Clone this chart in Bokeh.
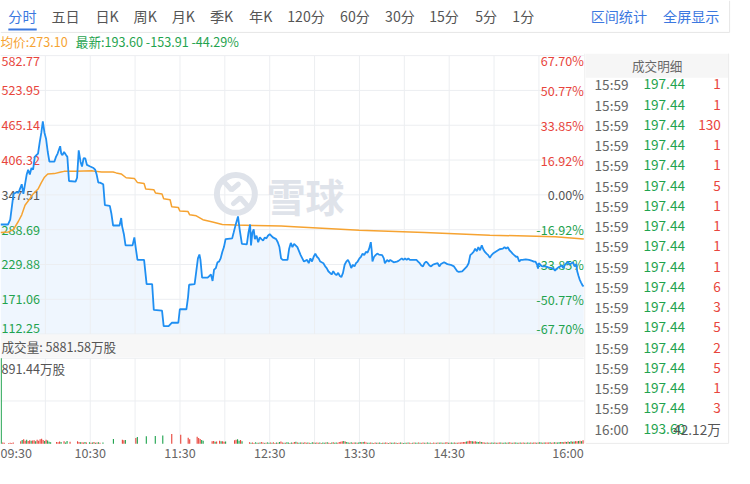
from bokeh.plotting import figure
from bokeh.models import Range1d
from bokeh.core.properties import value
from bokeh.embed import file_html
from bokeh.resources import INLINE

FONT = "Noto Sans CJK SC"

# ---------------- data ----------------
prev_close = 347.51
avg_last = 273.10
last_price = 193.60
last_change = -153.91
last_pct = -44.29
total_volume_wan = 5881.58
max_volume_wan = 891.44

price_ticks = [582.77, 523.95, 465.14, 406.32, 347.51, 288.69, 229.88, 171.06, 112.25]
pct_labels = ["67.70%", "50.77%", "33.85%", "16.92%", "0.00%", "-16.92%", "-33.85%", "-50.77%", "-67.70%"]
time_tick_min = [0, 60, 120, 180, 240, 300, 390]
time_tick_labels = ["09:30", "10:30", "11:30", "12:30", "13:30", "14:30", "16:00"]

tabs = ["分时", "五日", "日K", "周K", "月K", "季K", "年K", "120分", "60分", "30分", "15分", "5分", "1分"]
tools_right = ["区间统计", "全屏显示"]

# minute-line price (minutes after 09:30, price)
price_min = [0, 5, 6.5, 8.7, 10.9, 12, 14.2, 15.3, 17.5, 18.5, 19.6, 20.7, 21.8, 22.9, 24, 25.1, 26.2, 27.3, 28.3, 29.4,
             30.5, 31.6, 32.7, 36, 37.1, 38.2, 39.3, 39.9, 40.6, 41.4, 42.5, 43.6, 44.7, 45.8, 50.2, 51.2, 52.3, 53.5, 54.5, 55.6,
             56.7, 57.8, 60, 62.2, 63.3, 64.3, 65.4, 66.5, 68.7, 69.8, 73.1, 74.1, 75.3, 79.6, 80.7, 81.3, 82.5, 83.6, 88.3, 89.5,
             90.5, 91.6, 96, 97.7, 101.4, 102.5, 108, 109.1, 112.4, 114.5, 118.9, 119.9, 124.3, 125.4, 126.1, 129.8, 130.9, 132, 133, 133.7,
             134.8, 138.5, 139.6, 140.7, 141.8, 142.8, 144, 145.1, 146.1, 147.2, 148.3, 149.4, 150.5, 154.9, 155.9, 157, 158.8, 159.9, 161.4, 164.7,
             165.8, 166.9, 167.5, 168.4, 169.3, 170.1, 171.2, 172.3, 173.4, 174.5, 175.6, 176.7, 177.8, 178.8, 180, 182.1, 184.3, 185.4, 186.5, 187.6,
             188.7, 191.9, 193, 194.1, 195.2, 196.3, 198.5, 200.7, 202.9, 205, 206.1, 207.2, 208.3, 209.4, 210.5, 211.6, 212.7, 213.8, 215.9, 217.1,
             218.1, 219.2, 220.3, 221.4, 222.5, 223.6, 224.6, 225.8, 226.9, 227.9, 229, 230.1, 231.2, 232.3, 233.4, 234.5, 235.6, 236.7, 237.7, 238.8,
             240, 241, 242.1, 243.2, 244.3, 245.4, 246.5, 247.6, 248.2, 248.7, 249.8, 250.8, 251.9, 253, 255.2, 256.3, 257, 258.5, 259.6, 260.6,
             262.9, 265, 266.1, 268.3, 269.4, 270.5, 271.6, 272.7, 273.7, 276, 278.1, 279.2, 280.3, 281.4, 282.5, 283.5, 284.6, 285.7, 286.8, 287.9,
             289, 290.1, 292.3, 293.4, 294.5, 296.6, 298.8, 301, 303.2, 305.4, 306.4, 308.7, 310.8, 311.9, 313, 314.1, 315.2, 316.3, 317.4, 318.5,
             319.5, 320.6, 321.8, 322.8, 323.9, 325, 326.1, 327.2, 328.3, 329.3, 331.6, 333.7, 335.9, 337, 338.1, 339.2, 340.3, 341.4, 342.4, 343.5,
             344.7, 345.7, 346.8, 347.9, 349, 351.2, 353.4, 355.5, 356.6, 357.7, 358.8, 359.4, 359.9, 361, 362.1, 364.3, 366.4, 368.6, 369.7, 370.8,
             371.9, 373, 374.1, 375.2, 376.3, 377.4, 378.4, 379.5, 380.6, 381.7, 382.8, 383.9, 385, 385.6, 386.5, 387.2, 388.2, 389.3, 390]
price_val = [297.4, 297.4, 305.5, 349.1, 352.4, 350.8, 365.5, 349.1, 381.8, 390.0, 381.8, 392.8, 390.0, 411.7, 414.5, 417.3, 436.2, 452.6, 471.7, 452.6,
             441.8, 419.9, 403.5, 403.5, 411.7, 417.3, 425.4, 429.7, 417.3, 414.5, 419.9, 415.6, 411.7, 370.9, 370.0, 376.4, 422.7, 403.5, 395.4, 409.6,
             409.1, 398.1, 395.4, 392.8, 390.0, 381.8, 368.2, 368.2, 365.5, 330.0, 329.0, 316.5, 295.7, 295.7, 308.3, 294.7, 281.0, 262.1, 262.1, 275.6,
             256.5, 237.6, 237.6, 196.7, 196.7, 153.1, 152.0, 125.8, 125.8, 131.4, 131.4, 154.2, 154.2, 174.8, 195.6, 196.7, 218.4, 240.2, 246.7, 237.6,
             207.5, 207.5, 210.3, 213.0, 202.1, 221.2, 223.8, 233.6, 234.8, 240.2, 251.1, 259.3, 272.8, 274.0, 283.8, 294.7, 311.1, 289.2, 264.7, 263.7,
             283.8, 297.4, 262.1, 283.8, 289.2, 272.8, 278.4, 267.5, 275.6, 272.8, 270.2, 275.6, 274.0, 278.4, 281.0, 275.6, 272.8, 267.5, 259.3, 240.2,
             237.6, 237.6, 256.5, 266.3, 259.3, 264.7, 259.3, 245.7, 234.8, 237.6, 232.0, 240.2, 234.8, 242.9, 248.3, 242.9, 240.2, 234.8, 232.0, 226.6,
             223.8, 218.4, 215.7, 213.0, 218.4, 214.0, 211.9, 215.7, 210.3, 208.6, 215.7, 229.4, 234.8, 237.6, 232.0, 223.8, 229.4, 226.6, 232.0, 234.8,
             240.2, 242.9, 248.3, 245.7, 251.1, 250.0, 256.5, 267.5, 253.9, 234.8, 242.9, 245.7, 248.3, 246.7, 245.7, 240.2, 232.0, 237.6, 234.8, 237.6,
             233.6, 234.8, 235.9, 240.2, 237.6, 240.2, 237.6, 240.2, 237.6, 237.6, 237.6, 234.8, 232.0, 228.2, 226.6, 232.0, 234.8, 232.0, 228.2, 226.6,
             229.4, 230.5, 232.0, 226.6, 230.8, 233.6, 230.5, 229.4, 226.6, 218.4, 217.3, 218.4, 223.8, 226.6, 232.0, 245.7, 248.3, 251.1, 256.5, 252.2,
             259.3, 253.9, 262.1, 255.6, 251.1, 248.3, 245.7, 241.3, 245.7, 248.3, 252.2, 255.6, 256.5, 259.3, 256.5, 259.3, 253.9, 251.1, 248.3, 245.7,
             242.9, 242.9, 234.8, 237.6, 237.6, 238.6, 237.6, 235.9, 234.8, 234.8, 229.4, 222.8, 232.0, 229.4, 226.6, 226.6, 225.0, 223.8, 222.8, 219.6,
             222.8, 225.0, 226.6, 228.2, 223.8, 229.4, 232.0, 234.8, 229.4, 232.0, 233.6, 226.6, 230.5, 218.4, 210.3, 204.9, 199.3, 193.9, 193.60]

# average price line
avg_min = [0, 5.4, 8.7, 12, 14.2, 16.4, 19.6, 21.8, 25.1, 27.3, 29.4, 31.6, 36, 40.4, 42.5, 50.2, 61.1, 63.3, 67.6, 75.3,
           77.4, 80.7, 84, 89.5, 91.6, 96, 97.1, 102.5, 103.6, 108, 109.1, 113.4, 114.5, 118.9, 119.9, 125.4, 126.5, 130.9, 135.3, 141.8,
           148.3, 157, 170.1, 187.6, 196.3, 240, 283.5, 327.2, 370.8, 390]
avg_val = [283.8, 284.9, 289.2, 302.9, 313.7, 330.0, 341.0, 349.1, 357.3, 368.2, 377.4, 382.9, 383.4, 386.2, 387.2, 387.2, 388.3, 387.2, 386.2, 386.2,
           384.6, 382.9, 376.4, 375.3, 368.2, 366.6, 357.3, 356.2, 350.8, 349.1, 341.0, 339.3, 327.4, 326.3, 320.2, 319.2, 313.7, 312.1, 305.5, 301.8,
           297.4, 296.4, 295.7, 294.7, 293.6, 287.5, 283.8, 279.4, 276.8, 273.10]

# volume (万股) per minute; 1 = up (red), 0 = down (green)
vol_am_min = [0, 1, 2, 5, 6, 7, 8, 13, 14, 15, 16, 17, 18, 19, 20, 21, 22, 23, 24, 25, 26, 27, 28, 29, 30, 31, 32, 33,
              37, 38, 39, 40, 42, 43, 44, 46, 51, 52, 53, 54, 55, 56, 57, 59, 60, 61, 62, 63, 64, 65, 66, 68,
              75, 81, 82, 83, 90, 91, 97, 103, 108, 114, 120, 125, 126, 131, 132, 133, 134, 135,
              141, 142, 143, 144, 146, 147, 148, 149, 150, 156, 157, 158, 159, 160, 161]
vol_am_val = [891.44, 12, 10, 8, 10, 8, 12, 25, 38, 45, 30, 42, 28, 35, 30, 32, 36, 25, 40, 30, 45, 50, 38, 28, 42, 32, 20, 14,
              18, 15, 22, 16, 24, 12, 28, 20, 25, 18, 15, 14, 12, 16, 12, 15, 10, 12, 18, 10, 12, 14, 10, 12,
              48, 40, 35, 38, 60, 70, 78, 80, 85, 100, 92, 62, 45, 72, 60, 48, 38, 30,
              25, 28, 20, 22, 30, 24, 26, 20, 22, 35, 40, 45, 30, 38, 25]
vol_am_dir = [0, 1, 1, 1, 1, 1, 1, 1, 0, 1, 1, 0, 1, 1, 0, 1, 1, 0, 1, 1, 1, 1, 1, 0, 1, 0, 0, 0,
              1, 1, 1, 0, 1, 0, 0, 1, 1, 1, 0, 1, 1, 0, 1, 0, 1, 0, 1, 0, 1, 0, 1, 0,
              0, 1, 1, 0, 1, 0, 0, 0, 0, 1, 1, 1, 1, 1, 1, 1, 0, 0,
              1, 1, 0, 1, 1, 0, 1, 1, 0, 1, 1, 0, 0, 1, 0]
vol_pm_start = 166
vol_pm_val = [15, 10, 12, 8, 14, 10, 9, 12, 16, 11, 8, 10, 13, 9, 12, 10, 14, 8, 11, 9,
              18, 22, 12, 10, 9, 14, 11, 8, 12, 10, 16, 20, 12, 9, 11, 13, 10, 15, 9, 12,
              10, 8, 14, 11, 9, 12, 10, 13, 8, 11, 9, 12, 15, 10, 8, 12, 14, 9, 11, 10,
              16, 20, 24, 28, 22, 18, 12, 10, 14, 9, 11, 13, 10, 12, 16, 14, 18, 20, 12, 10,
              9, 11, 10, 8, 12, 9, 10, 11, 8, 9, 10, 12, 9, 8, 11, 10, 9, 12, 10, 8,
              9, 11, 10, 8, 10, 9, 12, 10, 8, 9, 11, 10, 9, 12, 10, 8, 11, 9, 10, 12,
              9, 10, 8, 11, 10, 9, 12, 10, 11, 9, 10, 12, 14, 10, 9, 11, 10, 12, 9, 10,
              11, 12, 14, 16, 18, 22, 26, 30, 28, 24, 22, 26, 20, 18, 22, 16, 14, 12, 10, 12,
              10, 9, 11, 10, 12, 9, 10, 11, 12, 10, 9, 11, 10, 12, 14, 10, 9, 11, 12, 10,
              9, 11, 10, 12, 9, 10, 11, 9, 12, 10, 11, 13, 10, 12, 14, 11, 10, 12, 13, 11,
              12, 14, 10, 12, 15, 13, 11, 14, 16, 18, 15, 20, 17, 22, 18, 24, 20, 22, 26, 24, 28, 30, 26, 35]
vol_pm_dir = ("10110010110100101101" "01101001011010010110" "10010110100101101001" "11101001011010010110"
              "01011010010110100101" "10100101101001011010" "01011010010110100101" "11111011101100101101"
              "01001011010010110100" "10110100101101001011" "101101001011010010110101")

# trade detail table
trade_time = ["15:59"] * 17 + ["16:00"]
trade_price = [197.44] * 17 + [193.60]
trade_vol = ["1", "1", "130", "1", "1", "5", "1", "1", "1", "1", "6", "3", "5", "2", "5", "1", "3", "42.12万"]

# ---------------- layout (reference pixel geometry) ----------------
RW, RH = 750, 484
W, H = 734, 468
PX_PER_MIN = 596 / 390.0
P_TOP_Y, P_BOT_Y = 57.0, 345.0
V_TOP_Y, V_BOT_Y = 370.0, 458.3

RED = "#e8453c"
GREEN = "#1fa34e"
BLUE = "#1f8ff2"
ORANGE = "#f6a331"
GRAY = "#555555"
GRID = "#eceef1"
LINK = "#3b78e0"

kp = (price_ticks[0] - price_ticks[-1]) / (P_BOT_Y - P_TOP_Y)
kv = max_volume_wan / (V_BOT_Y - V_TOP_Y)

p = figure(width=W, height=H, output_backend="svg", toolbar_location=None,
           x_range=Range1d(0, RW), y_range=Range1d(RH, 0), min_border=0)
p.extra_x_ranges = {"min": Range1d(0, RW / PX_PER_MIN)}
p.extra_y_ranges = {
    "price": Range1d(price_ticks[-1] - (RH - P_BOT_Y) * kp, price_ticks[-1] + P_BOT_Y * kp),
    "vol": Range1d(-(RH - V_BOT_Y) * kv, V_BOT_Y * kv),
}
p.xaxis.visible = False
p.yaxis.visible = False
p.grid.visible = False
p.outline_line_color = None
p.background_fill_color = "white"
p.border_fill_color = "white"

sc = (W / RW + H / RH) / 2.0
def fs(px):
    return "%.1fpx" % (px * sc)

# ---- backgrounds / frames ----
p.segment(x0=[0], y0=[33], x1=[745], y1=[33], line_color="#e6e6e6", line_width=1)
p.segment(x0=[745], y0=[0], x1=[745], y1=[33], line_color="#e6e6e6", line_width=1)
p.quad(left=[0], right=[596], top=[346], bottom=[369], fill_color="#f7f7f7", line_color=None)
p.quad(left=[598], right=[744], top=[55], bottom=[80], fill_color="#f6f6f6", line_color=None)
p.segment(x0=[744, 598], y0=[55, 458], x1=[744, 744], y1=[458, 458], line_color="#ebebeb", line_width=1)
p.segment(x0=[597], y0=[55], x1=[597], y1=[458], line_color="#eeeeee", line_width=1)

# ---- price area fill ----
p.varea(x=price_min, y1=price_val, y2=[price_ticks[-1]] * len(price_val),
        x_range_name="min", y_range_name="price", fill_color="#e9f3fe", fill_alpha=0.75)

# ---- grids ----
grid_min = list(range(30, 390, 30))
p.segment(x0=grid_min, y0=[price_ticks[0]] * len(grid_min), x1=grid_min, y1=[price_ticks[-1]] * len(grid_min),
          x_range_name="min", y_range_name="price", line_color=GRID, line_width=1)
p.segment(x0=grid_min, y0=[max_volume_wan] * len(grid_min), x1=grid_min, y1=[0] * len(grid_min),
          x_range_name="min", y_range_name="vol", line_color=GRID, line_width=1)
p.segment(x0=[0] * len(price_ticks), y0=price_ticks, x1=[390] * len(price_ticks), y1=price_ticks,
          x_range_name="min", y_range_name="price", line_color=GRID, line_width=1)
p.segment(x0=[0, 0], y0=[max_volume_wan / 2, max_volume_wan], x1=[390, 390], y1=[max_volume_wan / 2, max_volume_wan],
          x_range_name="min", y_range_name="vol", line_color=GRID, line_width=1)

# ---- watermark ----
p.scatter(x=[240.5], y=[200], size=39 * sc, marker="circle", fill_color=None,
          line_color="#dfe3ea", line_width=6)
p.multi_line(xs=[[229, 236, 243], [238, 245, 252]], ys=[[188, 196, 190], [210, 204, 212]],
             line_color="#dfe3ea", line_width=5, line_cap="round")
p.text(x=[272], y=[201], text=["雪球"], text_font=value(FONT), text_font_size=fs(40),
       text_color="#dfe3ea", text_baseline="middle", text_align="left", text_font_style="bold")

# ---- header tabs ----
tab_x = [8, 52, 97, 136, 175, 214, 254, 293, 347, 393, 438, 485, 523]
p.text(x=tab_x, y=[16.5] * len(tabs), text=tabs, text_font=value(FONT), text_font_size=fs(14.5),
       text_color=[LINK] + ["#555555"] * (len(tabs) - 1), text_baseline="middle", text_align="left")
p.segment(x0=[8], y0=[30], x1=[37], y1=[30], line_color=LINK, line_width=2)
p.text(x=[603, 677], y=[16.5, 16.5], text=tools_right, text_font=value(FONT), text_font_size=fs(14.5),
       text_color=LINK, text_baseline="middle", text_align="left")

# ---- legend line ----
p.text(x=[0], y=[42], text=["均价:%.2f" % avg_last], text_font=value(FONT), text_font_size=fs(13),
       text_color=ORANGE, text_baseline="middle", text_align="left")
p.text(x=[77], y=[42], text=["最新:%.2f %.2f %.2f%%" % (last_price, last_change, last_pct)], text_font=value(FONT),
       text_font_size=fs(13), text_color=GREEN, text_baseline="middle", text_align="left")

# ---- price / pct tick labels ----
lab_col = [RED if t > prev_close else (GRAY if t == prev_close else GREEN) for t in price_ticks]
offs = [5] + [0] * (len(price_ticks) - 2) + [-6]
p.text(x=[1] * len(price_ticks), y=price_ticks, text=["%.2f" % t for t in price_ticks], y_offset=offs,
       y_range_name="price", text_font=value(FONT), text_font_size=fs(13), text_color=lab_col,
       text_baseline="middle", text_align="left")
p.text(x=[596] * len(price_ticks), y=price_ticks, text=pct_labels, y_offset=offs,
       y_range_name="price", text_font=value(FONT), text_font_size=fs(13), text_color=lab_col,
       text_baseline="middle", text_align="right")

# ---- lines ----
p.line(x=avg_min, y=avg_val, x_range_name="min", y_range_name="price", line_color=ORANGE, line_width=1.5)
p.line(x=price_min, y=price_val, x_range_name="min", y_range_name="price", line_color=BLUE, line_width=1.8)

# ---- volume ----
vol_x = [m + 0.5 for m in vol_am_min] + [vol_pm_start + i + 0.5 for i in range(len(vol_pm_val))]
vol_top = vol_am_val + vol_pm_val
vol_dir = vol_am_dir + [int(c) for c in vol_pm_dir[:len(vol_pm_val)]]
vol_col = [RED if d == 1 else GREEN for d in vol_dir]
p.vbar(x=vol_x, width=0.75, top=vol_top, bottom=0, x_range_name="min", y_range_name="vol",
       fill_color=vol_col, line_color=None)

p.text(x=[1], y=[357.5], text=["成交量: %.2f万股" % total_volume_wan], text_font=value(FONT),
       text_font_size=fs(13), text_color=GRAY, text_baseline="middle", text_align="left")
p.text(x=[1], y=[380.5], text=["%.2f万股" % max_volume_wan], text_font=value(FONT),
       text_font_size=fs(13), text_color=GRAY, text_baseline="middle", text_align="left")

# ---- time labels ----
t_align = ["left"] + ["center"] * (len(time_tick_min) - 2) + ["right"]
p.text(x=time_tick_min, y=[467.5] * len(time_tick_min), text=time_tick_labels, x_range_name="min",
       text_font=value(FONT), text_font_size=fs(13), text_color="#666666", text_baseline="middle", text_align=t_align)

# ---- trade table ----
p.text(x=[671], y=[67.5], text=["成交明细"], text_font=value(FONT), text_font_size=fs(13),
       text_color="#666666", text_baseline="middle", text_align="center")
row_y = [86.7 + i * 20.94 for i in range(len(trade_time))]
p.text(x=[607] * len(trade_time), y=row_y, text=trade_time, text_font=value(FONT), text_font_size=fs(14),
       text_color="#666666", text_baseline="middle", text_align="left")
p.text(x=[657] * len(trade_time), y=row_y, text=["%.2f" % v for v in trade_price], text_font=value(FONT),
       text_font_size=fs(14), text_color=GREEN, text_baseline="middle", text_align="left")
p.text(x=[736] * len(trade_time), y=row_y, text=trade_vol, text_font=value(FONT), text_font_size=fs(14),
       text_color=[RED] * (len(trade_vol) - 1) + ["#555555"], text_baseline="middle", text_align="right")

open("out.html", "w").write(file_html(p, INLINE))
